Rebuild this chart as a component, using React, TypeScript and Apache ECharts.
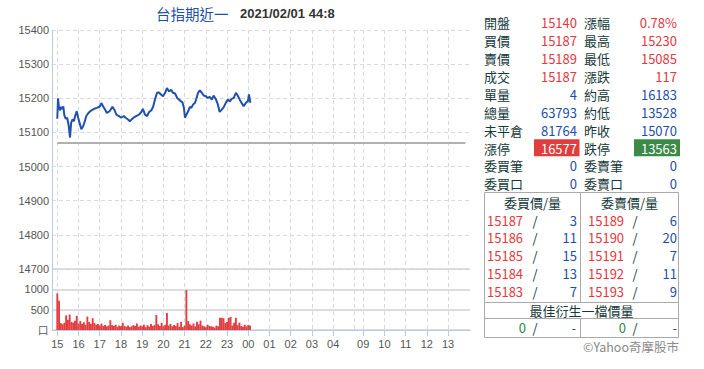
import React, { useEffect, useRef } from "react";
import * as echarts from "echarts";

const titleName = "台指期近一";
const titleTime = "2021/02/01 44:8";

const priceTimes = [
  "15:00", "15:02", "15:05", "15:08", "15:11", "15:14", "15:17", "15:20", "15:24", "15:28",
  "15:32", "15:36", "15:39", "15:43", "15:47", "15:51", "15:55", "15:59", "16:03", "16:08",
  "16:13", "16:17", "16:22", "16:28", "16:33", "16:40", "16:46", "16:52", "17:00", "17:05",
  "17:09", "17:15", "17:20", "17:28", "17:36", "17:42", "17:47", "17:54", "18:01", "18:08",
  "18:13", "18:20", "18:25", "18:30", "18:38", "18:43", "18:51", "18:57", "19:02", "19:08",
  "19:14", "19:19", "19:26", "19:31", "19:36", "19:42", "19:48", "19:53", "19:59", "20:05",
  "20:10", "20:16", "20:22", "20:27", "20:33", "20:39", "20:44", "20:50", "20:54", "20:58",
  "21:01", "21:05", "21:10", "21:15", "21:19", "21:24", "21:29", "21:33", "21:38", "21:43",
  "21:48", "21:54", "22:00", "22:05", "22:11", "22:17", "22:22", "22:28", "22:34", "22:39",
  "22:45", "22:51", "22:56", "23:02", "23:08", "23:13", "23:19", "23:25", "23:30", "23:36",
  "23:42", "23:47", "23:53", "23:59", "00:02", "00:06",
];
const priceValues = [
  15140, 15200, 15170, 15165, 15175, 15168, 15176, 15150, 15140, 15143,
  15121, 15085, 15128, 15138, 15133, 15150, 15162, 15143, 15128, 15109,
  15118, 15130, 15148, 15157, 15162, 15167, 15170, 15172, 15176, 15186,
  15177, 15167, 15157, 15162, 15175, 15165, 15152, 15148, 15143, 15148,
  15143, 15138, 15133, 15138, 15145, 15148, 15152, 15159, 15169, 15152,
  15148, 15159, 15165, 15175, 15196, 15216, 15217, 15211, 15206, 15216,
  15230, 15220, 15225, 15216, 15214, 15201, 15196, 15191, 15188, 15172,
  15143, 15152, 15162, 15175, 15172, 15182, 15186, 15198, 15216, 15223,
  15217, 15208, 15206, 15201, 15204, 15196, 15208, 15198, 15182, 15160,
  15167, 15175, 15186, 15196, 15191, 15198, 15201, 15216, 15208, 15196,
  15185, 15177, 15186, 15192, 15211, 15187,
];
const prevClose = 15070;

// volume per 5-minute step starting at 15:00
const volumeValues = [
  900, 720, 170, 140, 180, 360, 250, 380, 200, 180,
  230, 350, 160, 220, 150, 190, 130, 330, 200, 150,
  290, 170, 130, 150, 110, 160, 100, 120, 90, 110,
  240, 120, 100, 130, 80, 110, 90, 180, 100, 80,
  110, 70, 90, 120, 100, 160, 80, 110, 90, 130,
  70, 120, 80, 150, 100, 120, 370, 140, 100, 180,
  90, 130, 420, 110, 150, 90, 120, 100, 170, 80,
  200, 70, 110, 980, 220, 140, 110, 160, 90, 200,
  140, 230, 110, 90, 70, 130, 100, 90, 80, 60,
  110, 90, 300, 300, 290, 170, 200, 300, 320, 110,
  180, 300, 120, 180, 100, 80, 130, 90, 120, 110,
];

const quoteLeftLabels = ["開盤", "買價", "賣價", "成交", "單量", "總量", "未平倉", "漲停", "委買筆", "委買口"];
const quoteLeftValues = ["15140", "15187", "15189", "15187", "4", "63793", "81764", "16577", "0", "0"];
const quoteRightLabels = ["漲幅", "最高", "最低", "漲跌", "約高", "約低", "昨收", "跌停", "委賣筆", "委賣口"];
const quoteRightValues = ["0.78%", "15230", "15085", "117", "16183", "13528", "15070", "13563", "0", "0"];

const bidPrices = ["15187", "15186", "15185", "15184", "15183"];
const bidVolumes = ["3", "11", "15", "13", "7"];
const askPrices = ["15189", "15190", "15191", "15192", "15193"];
const askVolumes = ["6", "20", "7", "11", "9"];

const labelHours = [
  "15:00", "16:00", "17:00", "18:00", "19:00", "20:00", "21:00", "22:00", "23:00", "00:00",
  "01:00", "02:00", "03:00", "04:00", "09:00", "10:00", "11:00", "12:00", "13:00",
];
const gridOnlyHours = ["05:00"];

function hhmm(t: number) {
  const v = ((t % 1440) + 1440) % 1440;
  return String(Math.floor(v / 60)).padStart(2, "0") + ":" + String(v % 60).padStart(2, "0");
}

const categories: string[] = [];
for (let i = -15; i <= 840; i++) categories.push(hhmm(900 + i));
for (let t = 8 * 60 + 36; t <= 14 * 60 + 2; t++) categories.push(hhmm(t));
const idxOf = new Map<string, number>();
categories.forEach((c, i) => idxOf.set(c, i));

const labelSet = new Set(labelHours);
const gridSet = new Set([...labelHours, ...gridOnlyHours]);

const RED = "#e5373d";
const BLUE = "#1d4ea8";
const LABEL = "#163a3a";
const GREEN = "#2e8a3e";
const CJK = '"Noto Sans CJK TC", "Noto Sans CJK SC", sans-serif';
const AXIS_BLUE = "#b7cbe3";

function buildGraphics() {
  const g: any[] = [];
  const txt = (text: string, x: number, y: number, fill: string, align = "left", size = 13, weight = "normal", family = CJK) => {
    g.push({
      type: "text",
      x,
      y,
      silent: true,
      z: 10,
      style: { text, fill, font: `${weight} ${size}px ${family}`, textAlign: align, textVerticalAlign: "middle" },
    });
  };
  const line = (x1: number, y1: number, x2: number, y2: number) => {
    g.push({ type: "line", silent: true, shape: { x1, y1, x2, y2 }, style: { stroke: "#aaaaaa", lineWidth: 1 } });
  };

  txt(titleName, 156, 13, "#1f4fa6", "left", 14.5);
  txt(titleTime, 240, 13.5, "#333333", "left", 13, "bold", '"Liberation Sans", Arial, sans-serif');

  for (let i = 0; i < quoteLeftLabels.length; i++) {
    const y = 22.7 + i * 17.9;
    txt(quoteLeftLabels[i], 484, y, LABEL);
    txt(quoteRightLabels[i], 584, y, LABEL);
    let lc = i < 4 ? RED : BLUE;
    let rc = i < 4 ? RED : BLUE;
    if (i === 7) {
      g.push({ type: "rect", silent: true, shape: { x: 534, y: y - 8.7, width: 45.5, height: 17 }, style: { fill: "#e03d3f" } });
      g.push({ type: "rect", silent: true, shape: { x: 634, y: y - 8.7, width: 46, height: 17 }, style: { fill: "#3b8a48" } });
      lc = "#ffffff";
      rc = "#ffffff";
    }
    txt(quoteLeftValues[i], 577, y, lc, "right");
    txt(quoteRightValues[i], 677, y, rc, "right");
  }

  // order book table
  g.push({
    type: "rect",
    silent: true,
    shape: { x: 484.5, y: 192.5, width: 194, height: 145 },
    style: { fill: "none", stroke: "#aaaaaa", lineWidth: 1 },
  });
  line(580.5, 192.5, 580.5, 302.5);
  line(484.5, 302.5, 678.5, 302.5);
  line(484.5, 318.5, 678.5, 318.5);
  line(580.5, 318.5, 580.5, 337.5);

  txt("委買價/量", 532.5, 202.7, LABEL, "center");
  txt("委賣價/量", 629.5, 202.7, LABEL, "center");
  for (let j = 0; j < bidPrices.length; j++) {
    const y = 220 + j * 17.8;
    txt(bidPrices[j], 487, y, RED);
    txt("/", 535, y, LABEL, "center");
    txt(bidVolumes[j], 577, y, BLUE, "right");
    txt(askPrices[j], 588, y, RED);
    txt("/", 635, y, LABEL, "center");
    txt(askVolumes[j], 677, y, BLUE, "right");
  }
  txt("最佳衍生一檔價量", 581.5, 310, LABEL, "center");
  txt("0", 526, 327.7, GREEN, "right");
  txt("/", 535, 327.7, LABEL, "center");
  txt("-", 576, 327.7, BLUE, "right");
  txt("0", 626, 327.7, GREEN, "right");
  txt("/", 635, 327.7, LABEL, "center");
  txt("-", 677, 327.7, BLUE, "right");

  txt("©Yahoo奇摩股市", 679, 346, "#8a8a8a", "right", 12.5);
  return g;
}

export default function App() {
  const ref = useRef<HTMLDivElement>(null);
  useEffect(() => {
    if (!ref.current) return;
    const chart = echarts.init(ref.current, undefined, { renderer: "svg" });
    const priceData = priceTimes.map((t, i) => [idxOf.get(t) as number, priceValues[i]]);
    const volumeData = volumeValues.map((v, i) => [idxOf.get(hhmm(900 + i * 5)) as number, v]);
    const axisFont = { color: "#555555", fontSize: 11, fontFamily: '"Liberation Sans", Arial, sans-serif' };
    const dashed = { show: true, lineStyle: { color: "#dadada", type: [4, 3] as any, width: 1 } };

    chart.setOption({
      animation: false,
      grid: [
        { left: 52, top: 30, width: 418, height: 239 },
        { left: 52, top: 269, width: 418, height: 61 },
      ],
      xAxis: [
        {
          type: "category",
          gridIndex: 0,
          data: categories,
          boundaryGap: false,
          axisLine: { show: false },
          axisTick: { show: false },
          axisLabel: { show: false },
          splitLine: { ...dashed, interval: (_i: number, v: string) => gridSet.has(v) },
        },
        {
          type: "category",
          gridIndex: 1,
          data: categories,
          boundaryGap: false,
          axisLine: { show: true, lineStyle: { color: AXIS_BLUE, width: 1 } },
          axisTick: { show: true, length: 6, lineStyle: { color: AXIS_BLUE }, interval: (_i: number, v: string) => labelSet.has(v) },
          axisLabel: {
            ...axisFont,
            margin: 8,
            interval: (_i: number, v: string) => labelSet.has(v),
            formatter: (v: string) => v.slice(0, 2),
          },
          splitLine: { ...dashed, interval: (_i: number, v: string) => gridSet.has(v) },
        },
      ],
      yAxis: [
        {
          type: "value",
          gridIndex: 0,
          min: 14700,
          max: 15400,
          interval: 100,
          axisLine: { show: true, lineStyle: { color: AXIS_BLUE } },
          axisTick: { show: false },
          axisLabel: { ...axisFont, margin: 3, formatter: (v: number) => String(v) },
          splitLine: dashed,
        },
        {
          type: "value",
          gridIndex: 1,
          min: 0,
          max: 1500,
          interval: 500,
          axisLine: { show: true, lineStyle: { color: AXIS_BLUE } },
          axisTick: { show: false },
          axisLabel: {
            ...axisFont,
            margin: 3,
            formatter: (v: number) => (v === 0 ? "口" : v === 1500 ? "" : String(v)),
          },
          splitLine: { show: true, lineStyle: { color: "#d2d2d2", width: 1.5 } },
        },
      ],
      series: [
        {
          type: "line",
          xAxisIndex: 0,
          yAxisIndex: 0,
          data: priceData,
          showSymbol: false,
          lineStyle: { color: "#2150ad", width: 2 },
          z: 5,
          markLine: {
            silent: true,
            symbol: ["none", "none"],
            label: { show: false },
            lineStyle: { color: "#b0b0b0", width: 2, type: "solid" },
            data: [[{ coord: [15, prevClose] }, { coord: [1169, prevClose] }]],
          },
        },
        {
          type: "bar",
          xAxisIndex: 1,
          yAxisIndex: 1,
          data: volumeData,
          barWidth: 1.9,
          itemStyle: { color: "#e23d40" },
        },
      ],
      graphic: buildGraphics(),
    });
    return () => chart.dispose();
  }, []);
  return <div ref={ref} style={{ position: "fixed", left: 0, top: 0, width: 704, height: 369, background: "#fff" }} />;
}
